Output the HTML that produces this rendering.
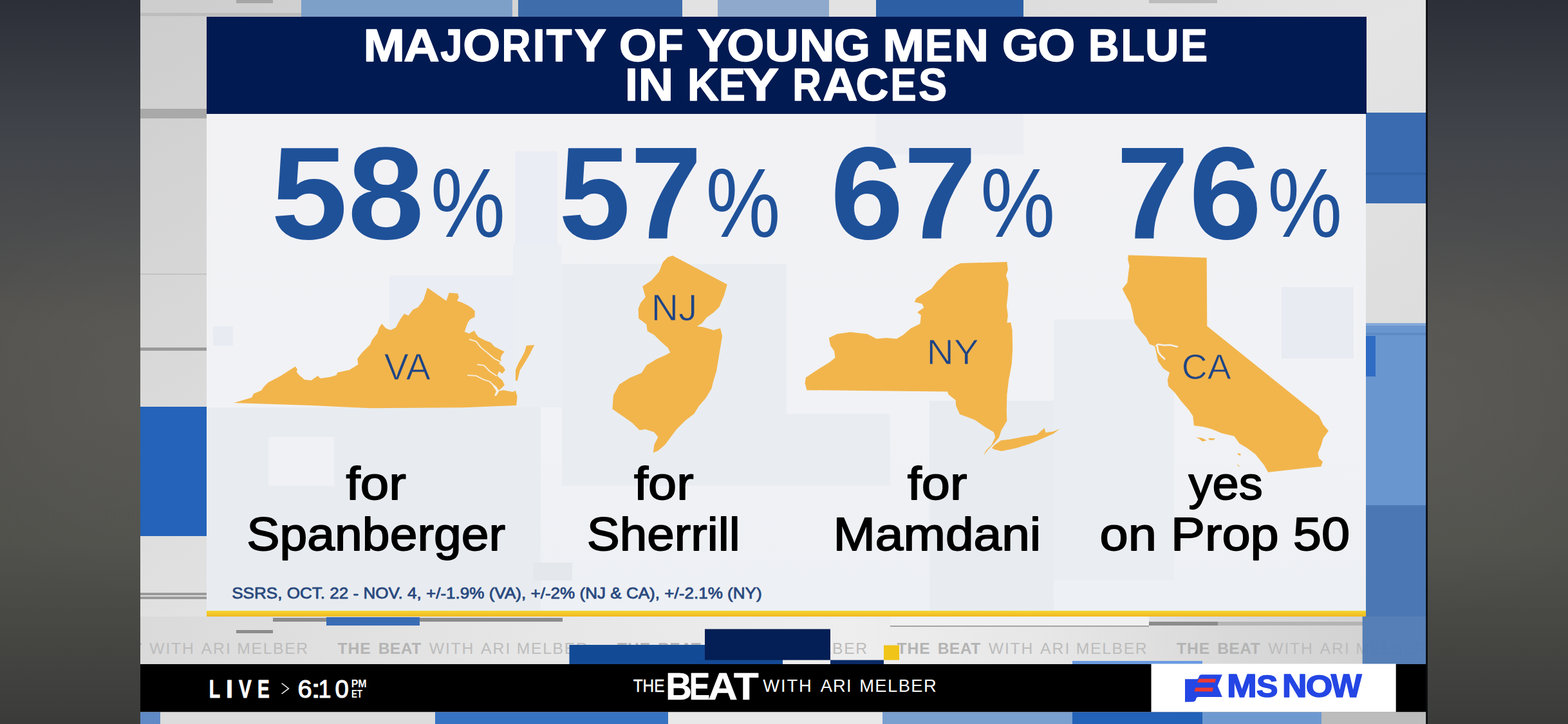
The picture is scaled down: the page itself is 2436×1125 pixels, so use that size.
<!DOCTYPE html>
<html><head><meta charset="utf-8"><title>MS NOW - The Beat</title>
<style>
html,body{margin:0;padding:0;background:#4a4a48;overflow:hidden}
body{width:2436px;height:1125px}
svg{display:block;font-family:"Liberation Sans",sans-serif}
</style></head><body>
<svg width="2436" height="1125" viewBox="0 0 2436 1125">
<desc>MAJORITY OF YOUNG MEN GO BLUE IN KEY RACES. 58% for Spanberger (VA), 57% for Sherrill (NJ), 67% for Mamdani (NY), 76% yes on Prop 50 (CA). SSRS, OCT. 22 - NOV. 4. LIVE 6:10 PM ET. THE BEAT WITH ARI MELBER. MS NOW</desc>
<defs>
<linearGradient id="side" x1="0" y1="0" x2="0" y2="1">
<stop offset="0" stop-color="#2c2f38"/><stop offset="0.2" stop-color="#42454a"/><stop offset="0.45" stop-color="#54534f"/><stop offset="0.75" stop-color="#51514c"/><stop offset="1" stop-color="#3b3b3a"/>
</linearGradient>
<linearGradient id="vbg" x1="0" y1="0" x2="1" y2="1">
<stop offset="0" stop-color="#cdcdcd"/><stop offset="0.5" stop-color="#e4e4e4"/><stop offset="1" stop-color="#d4d4d4"/>
</linearGradient>
<linearGradient id="pbg" x1="0" y1="0" x2="0" y2="1">
<stop offset="0" stop-color="#f2f2f5"/><stop offset="0.6" stop-color="#f1f2f5"/><stop offset="1" stop-color="#edf0f4"/>
</linearGradient>
<linearGradient id="yel" x1="0" y1="0" x2="0" y2="1">
<stop offset="0" stop-color="#f6d534"/><stop offset="1" stop-color="#efb91f"/>
</linearGradient>
<linearGradient id="trow" x1="218" y1="0" x2="2216" y2="0" gradientUnits="userSpaceOnUse">
<stop offset="0" stop-color="#dadada"/><stop offset="0.3" stop-color="#e6e6e6"/><stop offset="0.55" stop-color="#eeeeee"/><stop offset="0.7" stop-color="#e7e7e7"/><stop offset="0.85" stop-color="#d9d9d9"/><stop offset="1" stop-color="#d0d0d0"/>
</linearGradient>
<radialGradient id="hl" cx="218" cy="610" r="330" gradientUnits="userSpaceOnUse"><stop offset="0" stop-color="#fff" stop-opacity="0.045"/><stop offset="1" stop-color="#fff" stop-opacity="0"/></radialGradient>
<radialGradient id="hr" cx="2216" cy="640" r="330" gradientUnits="userSpaceOnUse"><stop offset="0" stop-color="#fff" stop-opacity="0.045"/><stop offset="1" stop-color="#fff" stop-opacity="0"/></radialGradient>
</defs>
<rect x="218" y="0" width="1998" height="1125" fill="url(#vbg)" />
<rect x="367" y="0" width="57" height="5" fill="#a6a6a6" />
<rect x="218" y="20" width="250" height="5" fill="#bdbdbd" />
<rect x="468" y="0" width="328" height="26" fill="#7da0c9" />
<rect x="805" y="0" width="255" height="26" fill="#3f6dab" />
<rect x="1060" y="0" width="55" height="26" fill="#e2e2e2" />
<rect x="1115" y="0" width="173" height="26" fill="#8fa9cc" />
<rect x="1288" y="0" width="73" height="26" fill="#e2e2e2" />
<rect x="1361" y="0" width="229" height="26" fill="#2d5fa5" />
<rect x="1785" y="0" width="106" height="5" fill="#bcbcbc" />
<rect x="218" y="169" width="103" height="15" fill="#a9a9a9" />
<rect x="218" y="425" width="103" height="2" fill="#c4c4c4" />
<rect x="218" y="540" width="103" height="5" fill="#9a9a9a" />
<rect x="218" y="632" width="103" height="201" fill="#2463b9" />
<rect x="218" y="921" width="103" height="4" fill="#9a9a9a" />
<rect x="218" y="927" width="103" height="4" fill="#9a9a9a" />
<rect x="2122" y="175" width="94" height="141" fill="#3a6bb0" />
<rect x="2122" y="268" width="94" height="4" fill="#3463a6" />
<rect x="2122" y="502" width="94" height="283" fill="#6a96cf" />
<rect x="2122" y="502" width="94" height="4" fill="#86abd9" />
<rect x="2122" y="517" width="94" height="4" fill="#5f8ac4" />
<rect x="2122" y="522" width="15" height="63" fill="#2f6cc4" />
<rect x="2122" y="785" width="94" height="175" fill="#4b78b4" />
<rect x="218" y="958" width="1998" height="74" fill="url(#trow)" />
<rect x="424" y="960" width="450" height="6" fill="#8c8c8c" />
<rect x="507" y="959" width="145" height="13" fill="#3a6cb5" />
<rect x="367" y="979" width="57" height="5" fill="#8c8c8c" />
<rect x="1785" y="966" width="107" height="6" fill="#8c8c8c" />
<rect x="1892" y="966" width="226" height="6" fill="#b4b4b4" />
<rect x="1383" y="958" width="402" height="14" fill="#f0f0f0" />
<rect x="1383" y="972" width="402" height="2" fill="#a4a4a4" />
<text x="89.92" y="1015.6" font-size="24.7" fill="#b4b4b4" font-weight="bold" letter-spacing="0.934" >THE</text>
<text x="153.15" y="1015.6" font-size="24.7" fill="#b4b4b4" font-weight="bold" letter-spacing="0.402" >BEAT</text>
<text x="232.27" y="1015.6" font-size="24.7" fill="#bcbcbc" font-weight="normal" letter-spacing="1.815" >WITH</text>
<text x="312.51" y="1015.6" font-size="24.7" fill="#bcbcbc" font-weight="normal" letter-spacing="2.155" >ARI</text>
<text x="368.27" y="1015.6" font-size="24.7" fill="#bcbcbc" font-weight="normal" letter-spacing="1.677" >MELBER</text>
<text x="524.42" y="1015.6" font-size="24.7" fill="#b4b4b4" font-weight="bold" letter-spacing="0.934" >THE</text>
<text x="587.65" y="1015.6" font-size="24.7" fill="#b4b4b4" font-weight="bold" letter-spacing="0.402" >BEAT</text>
<text x="666.77" y="1015.6" font-size="24.7" fill="#bcbcbc" font-weight="normal" letter-spacing="1.815" >WITH</text>
<text x="747.01" y="1015.6" font-size="24.7" fill="#bcbcbc" font-weight="normal" letter-spacing="2.155" >ARI</text>
<text x="802.77" y="1015.6" font-size="24.7" fill="#bcbcbc" font-weight="normal" letter-spacing="1.677" >MELBER</text>
<text x="958.92" y="1015.6" font-size="24.7" fill="#b4b4b4" font-weight="bold" letter-spacing="0.934" >THE</text>
<text x="1022.15" y="1015.6" font-size="24.7" fill="#b4b4b4" font-weight="bold" letter-spacing="0.402" >BEAT</text>
<text x="1101.27" y="1015.6" font-size="24.7" fill="#bcbcbc" font-weight="normal" letter-spacing="1.815" >WITH</text>
<text x="1181.51" y="1015.6" font-size="24.7" fill="#bcbcbc" font-weight="normal" letter-spacing="2.155" >ARI</text>
<text x="1237.27" y="1015.6" font-size="24.7" fill="#bcbcbc" font-weight="normal" letter-spacing="1.677" >MELBER</text>
<text x="1393.42" y="1015.6" font-size="24.7" fill="#b4b4b4" font-weight="bold" letter-spacing="0.934" >THE</text>
<text x="1456.65" y="1015.6" font-size="24.7" fill="#b4b4b4" font-weight="bold" letter-spacing="0.402" >BEAT</text>
<text x="1535.77" y="1015.6" font-size="24.7" fill="#bcbcbc" font-weight="normal" letter-spacing="1.815" >WITH</text>
<text x="1616.01" y="1015.6" font-size="24.7" fill="#bcbcbc" font-weight="normal" letter-spacing="2.155" >ARI</text>
<text x="1671.77" y="1015.6" font-size="24.7" fill="#bcbcbc" font-weight="normal" letter-spacing="1.677" >MELBER</text>
<text x="1827.92" y="1015.6" font-size="24.7" fill="#b4b4b4" font-weight="bold" letter-spacing="0.934" >THE</text>
<text x="1891.15" y="1015.6" font-size="24.7" fill="#b4b4b4" font-weight="bold" letter-spacing="0.402" >BEAT</text>
<text x="1970.27" y="1015.6" font-size="24.7" fill="#bcbcbc" font-weight="normal" letter-spacing="1.815" >WITH</text>
<text x="2050.51" y="1015.6" font-size="24.7" fill="#bcbcbc" font-weight="normal" letter-spacing="2.155" >ARI</text>
<text x="2106.27" y="1015.6" font-size="24.7" fill="#bcbcbc" font-weight="normal" letter-spacing="1.677" >MELBER</text>
<rect x="884.5" y="1002" width="331.5" height="30.5" fill="#134a96" />
<rect x="1095" y="977.5" width="195" height="48.1" fill="#041f55" />
<rect x="1290" y="1025.6" width="83" height="6.4" fill="#0a2a66" />
<rect x="1373" y="1002.6" width="24" height="23.0" fill="#f0c419" />
<rect x="1666" y="1027" width="202" height="5" fill="#6a9be0" />
<rect x="2116.7" y="958" width="99.3" height="74" fill="#4b78b4" opacity="0.93"/>
<rect x="0" y="0" width="218" height="1125" fill="url(#side)"/>
<rect x="2216" y="0" width="220" height="1125" fill="url(#side)"/>
<rect x="0" y="0" width="218" height="1125" fill="url(#hl)"/>
<rect x="2216" y="0" width="220" height="1125" fill="url(#hr)"/>
<rect x="321" y="26" width="1802" height="151" fill="#021a52" />
<rect x="321" y="177" width="1801" height="773" fill="url(#pbg)" />
<rect x="800" y="235" width="66" height="205" fill="#eaedf3" />
<rect x="605" y="428" width="192" height="205" fill="#eaedf3" />
<rect x="797" y="380" width="76" height="253" fill="#ebeef3" />
<rect x="873" y="410" width="349" height="345" fill="#e9edf2" />
<rect x="331" y="507" width="31" height="30" fill="#e8ebf2" />
<rect x="321" y="633" width="519" height="316" fill="#e8ecf0" />
<rect x="417" y="679" width="102" height="76" fill="#eff1f4" />
<rect x="1361" y="177" width="229" height="63" fill="#ecedf2" />
<rect x="1221" y="643" width="162" height="112" fill="#e9edf1" />
<rect x="1444" y="623" width="193" height="326" fill="#e8ecf1" />
<rect x="1637" y="496" width="187" height="406" fill="#eaedf2" />
<rect x="1991" y="446" width="112" height="111" fill="#e9ebf2" />
<rect x="828" y="874" width="61" height="28" fill="#e4e8ed" />
<rect x="321" y="949" width="1801" height="9" fill="url(#yel)" />
<path d="M363.3 626.0 L391.1 617.8 L394.1 611.7 L406.4 606.5 L409.5 601.4 L416.7 594.2 L436.2 583.9 L458.8 569.6 L461.9 573.7 L460.8 577.8 L464.9 582.9 L473.2 590.1 L483.4 591.1 L493.7 583.9 L497.8 588.0 L512.2 586.0 L522.4 582.9 L524.5 578.8 L542.9 574.7 L556.3 566.5 L555.3 557.3 L562.4 548.0 L574.8 535.7 L577.8 528.5 L586.0 518.3 L589.1 509.0 L593.2 502.9 L599.4 510.0 L606.6 513.1 L614.8 509.0 L622.0 495.7 L628.1 487.5 L634.3 490.6 L641.5 481.3 L649.7 477.2 L657.9 465.9 L664.0 447.0 L693.4 467.6 L697.7 455.0 L711.0 456.1 L712.9 461.4 L710.2 467.6 L718.2 470.2 L727.1 474.7 L732.4 478.2 L737.7 483.6 L737.5 492.4 L730.7 496.1 L727.1 500.4 L724.4 507.6 L721.7 515.6 L728.9 518.3 L736.9 513.7 L739.6 519.1 L743.1 523.6 L753.7 528.9 L762.8 532.4 L767.9 538.6 L776.9 543.1 L783.9 546.6 L780.4 550.3 L777.8 555.6 L778.6 561.8 L775.1 564.4 L782.3 570.6 L784.9 575.1 L780.4 580.5 L775.1 577.0 L772.4 583.9 L780.4 591.1 L783.9 598.3 L778.6 603.6 L773.2 608.0 L782.3 606.3 L796.4 609.0 L800.9 607.1 L803.6 616.0 L802.2 630.1 L719.5 633.2 L575.8 634.2 L483.4 630.1 Z" fill="#f2b54c"/>
<path d="M830.3 535.9 L817.8 536.9 L815.1 546.6 L810.6 555.6 L805.3 564.4 L800.9 575.1 L800.9 591.1 L803.6 591.9 L807.9 575.1 L815.9 562.6 L823.1 550.3 L828.4 539.6 Z" fill="#f2b54c"/>
<path d="M1045.1 397.2 L1129.7 442.0 L1125.1 458.6 L1117.6 476.7 L1108.5 485.8 L1097.9 493.3 L1090.4 502.4 L1082.8 506.9 L1093.4 508.4 L1108.5 513.0 L1119.1 509.9 L1122.1 522.0 L1119.1 540.2 L1116.1 558.3 L1113.1 576.4 L1108.5 591.5 L1105.5 603.6 L1096.4 618.7 L1085.9 630.8 L1078.3 642.9 L1064.7 653.5 L1051.1 667.1 L1042.0 679.2 L1033.0 691.3 L1022.4 700.3 L1014.8 703.4 L1016.3 691.3 L1022.4 679.2 L1016.3 671.6 L1002.8 667.1 L993.7 668.6 L981.6 656.5 L966.5 645.9 L951.4 635.4 L952.9 614.2 L962.0 597.6 L978.6 587.0 L996.7 579.5 L1004.3 567.4 L1019.4 558.3 L1033.0 552.3 L1041.4 547.7 L1037.5 540.2 L1026.9 531.1 L1016.3 520.5 L1005.8 514.5 L1004.3 503.9 L992.2 494.8 L991.6 479.7 L995.2 470.7 L1002.8 461.6 L998.2 445.0 L1011.8 435.9 L1023.9 422.3 L1029.9 407.2 L1037.5 399.6 Z" fill="#f2b54c"/>
<path d="M1492.5 409.1 L1564.4 407.0 L1565.9 419.3 L1562.9 428.1 L1566.8 439.9 L1565.9 457.5 L1563.8 475.1 L1565.9 489.7 L1564.4 501.5 L1570.3 500.9 L1572.6 513.2 L1573.2 542.5 L1571.7 566.0 L1567.3 589.5 L1564.4 612.9 L1563.8 639.3 L1564.4 654.0 L1555.6 668.7 L1552.1 679.8 L1546.2 686.9 L1541.5 692.1 L1535.1 698.6 L1527.7 708.3 L1532.1 699.5 L1540.4 691.6 L1546.2 678.9 L1543.9 671.6 L1529.2 662.8 L1514.5 652.5 L1502.8 648.1 L1491.1 643.7 L1485.2 630.5 L1484.6 621.7 L1473.5 612.9 L1472.0 608.5 L1253.5 606.2 L1250.5 595.3 L1252.0 586.5 L1274.0 571.9 L1288.7 563.1 L1297.5 555.7 L1296.0 545.5 L1290.1 536.7 L1287.8 524.9 L1300.4 519.1 L1320.9 516.1 L1347.3 519.1 L1362.0 526.4 L1376.7 524.9 L1392.8 526.4 L1403.1 520.5 L1414.8 510.3 L1429.5 502.9 L1430.9 489.7 L1425.1 485.3 L1435.3 478.0 L1432.4 472.1 L1420.7 469.2 L1423.6 463.3 L1435.3 456.0 L1447.1 448.7 L1455.9 436.9 L1473.5 419.3 L1485.2 412.0 Z" fill="#f2b54c"/>
<path d="M1544.5 692.1 L1555.0 684.2 L1568.8 682.8 L1590.8 678.4 L1610.8 675.4 L1622.5 664.9 L1624.5 672.2 L1636.3 670.4 L1646.5 666.6 L1636.3 674.0 L1621.6 680.4 L1601.1 689.2 L1579.1 696.2 L1556.2 700.9 L1545.3 698.6 L1540.9 696.2 Z" fill="#f2b54c"/>
<path d="M1752.9 396.5 L1874.7 400.4 L1875.3 506.7 L2049.1 646.5 L2055.6 659.7 L2063.9 669.6 L2055.6 681.1 L2052.3 692.6 L2047.4 704.1 L2049.1 712.3 L2055.0 717.3 L2052.3 724.9 L1970.1 733.7 L1963.5 722.2 L1950.3 705.8 L1937.2 695.9 L1925.7 689.3 L1917.4 677.8 L1897.7 672.9 L1881.2 666.3 L1868.1 663.0 L1854.9 661.3 L1853.3 646.5 L1846.7 636.7 L1835.2 623.5 L1825.3 610.3 L1815.4 600.5 L1813.8 590.6 L1817.1 579.1 L1807.2 572.5 L1799.0 561.0 L1796.3 547.8 L1794.0 537.9 L1785.8 534.7 L1780.9 524.8 L1772.6 514.9 L1762.8 501.8 L1759.5 485.3 L1756.2 472.1 L1749.6 460.6 L1743.7 449.1 L1751.3 439.2 L1752.9 426.1 L1754.6 412.9 L1752.2 403.0 Z" fill="#f2b54c"/>
<path d="M1795.5 537.5 L1799 535 L1808 536.5 L1818 536 L1830 539" fill="none" stroke="#f3f0ea" stroke-width="2.6" stroke-linejoin="round"/>
<path d="M1797.5 537 L1799.5 547 L1804 553 L1810 558.5" fill="none" stroke="#f3f0ea" stroke-width="2.8" stroke-linejoin="round"/>
<path d="M1858.2 679.4 L1868.1 680.8 L1874.7 684.4 L1868.1 686.0 L1863.1 682.1 Z" fill="#f2b54c"/>
<path d="M1877.3 680.8 L1888.5 681.4 L1884.5 684.0 L1878.6 683.4 Z" fill="#f2b54c"/>
<path d="M1923.0 703.8 L1928.0 705.8 L1926.6 708.1 L1923.4 706.4 Z" fill="#f2b54c"/>
<path d="M1921.4 720.9 L1926.0 724.2 L1924.0 724.9 Z" fill="#f2b54c"/>
<path d="M728.9 527.1 L739.6 530.6 L746.8 539.6 L757.4 548.4 L767.9 557.3 L778.6 562.6" fill="none" stroke="#f6efe0" stroke-width="1.8" stroke-linejoin="round"/>
<path d="M741.4 566.3 L752.1 567.9 L760.9 577.0 L771.6 583.9" fill="none" stroke="#f6efe0" stroke-width="1.8" stroke-linejoin="round"/>
<path d="M726.2 583.1 L739.6 583.9 L750.2 589.3 L760.9 593.0 L767.9 600.0 L772.4 607.1 L768.9 615.1" fill="none" stroke="#f6efe0" stroke-width="1.8" stroke-linejoin="round"/>
<path d="M763.6 596.5 L770.6 600.0 L775.5 607.5 L771.2 615.1 L768.3 613.9 L771.2 608.0 L767.1 601.8 Z" fill="#f3efe6"/>
<text x="421" y="371" font-size="204" font-weight="bold" fill="#1f5199" textLength="238" lengthAdjust="spacingAndGlyphs">58</text>
<text x="669" y="368" font-size="153" font-weight="normal" fill="#1f5199" textLength="116" lengthAdjust="spacingAndGlyphs">%</text>
<text x="868" y="371" font-size="204" font-weight="bold" fill="#1f5199" textLength="222.7" lengthAdjust="spacingAndGlyphs">57</text>
<text x="1096.6" y="368" font-size="153" font-weight="normal" fill="#1f5199" textLength="116" lengthAdjust="spacingAndGlyphs">%</text>
<text x="1290" y="371" font-size="204" font-weight="bold" fill="#1f5199" textLength="227.4" lengthAdjust="spacingAndGlyphs">67</text>
<text x="1523.3" y="368" font-size="153" font-weight="normal" fill="#1f5199" textLength="116" lengthAdjust="spacingAndGlyphs">%</text>
<text x="1734.2" y="371" font-size="204" font-weight="bold" fill="#1f5199" textLength="226" lengthAdjust="spacingAndGlyphs">76</text>
<text x="1969.3" y="368" font-size="153" font-weight="normal" fill="#1f5199" textLength="116" lengthAdjust="spacingAndGlyphs">%</text>
<text x="596.73" y="590.21" font-size="56.75" fill="#1e4485" textLength="72.13" lengthAdjust="spacingAndGlyphs" stroke="#f2b54c" stroke-width="0.9">VA</text>
<text x="1011.84" y="497.88" font-size="58.02" fill="#1e4485" textLength="71.54" lengthAdjust="spacingAndGlyphs" stroke="#f2b54c" stroke-width="0.9">NJ</text>
<rect x="1063.5" y="457.0" width="10.4" height="6.4" fill="#f2b54c" />
<text x="1439.44" y="566.45" font-size="54.93" fill="#1e4485" textLength="81.37" lengthAdjust="spacingAndGlyphs" stroke="#f2b54c" stroke-width="0.9">NY</text>
<text x="1835.73" y="589.49" font-size="55.63" fill="#1e4485" textLength="76.9" lengthAdjust="spacingAndGlyphs" stroke="#f2b54c" stroke-width="0.9">CA</text>
<text x="537.47" y="775.7" font-size="72.6" fill="#000" font-weight="normal" textLength="93.39" lengthAdjust="spacingAndGlyphs" stroke="#000" stroke-width="1.8" stroke-linejoin="round" >for</text>
<text x="383.24" y="855.1" font-size="72.6" fill="#000" font-weight="normal" textLength="401.99" lengthAdjust="spacingAndGlyphs" stroke="#000" stroke-width="1.8" stroke-linejoin="round" >Spanberger</text>
<text x="985.08" y="775.7" font-size="72.6" fill="#000" font-weight="normal" textLength="92.57" lengthAdjust="spacingAndGlyphs" stroke="#000" stroke-width="1.8" stroke-linejoin="round" >for</text>
<text x="911.86" y="855.1" font-size="72.6" fill="#000" font-weight="normal" textLength="237.85" lengthAdjust="spacingAndGlyphs" stroke="#000" stroke-width="1.8" stroke-linejoin="round" >Sherrill</text>
<text x="1409.78" y="775.7" font-size="72.6" fill="#000" font-weight="normal" textLength="92.68" lengthAdjust="spacingAndGlyphs" stroke="#000" stroke-width="1.8" stroke-linejoin="round" >for</text>
<text x="1294.45" y="855.1" font-size="72.6" fill="#000" font-weight="normal" textLength="322.89" lengthAdjust="spacingAndGlyphs" stroke="#000" stroke-width="1.8" stroke-linejoin="round" >Mamdani</text>
<text x="1846.61" y="775.7" font-size="72.6" fill="#000" font-weight="normal" textLength="115.17" lengthAdjust="spacingAndGlyphs" stroke="#000" stroke-width="1.8" stroke-linejoin="round" >yes</text>
<text x="1708.55" y="855.1" font-size="72.6" fill="#000" font-weight="normal" textLength="388.68" lengthAdjust="spacingAndGlyphs" stroke="#000" stroke-width="1.8" stroke-linejoin="round" >on Prop 50</text>
<text x="360.19" y="930.2" font-size="23.6" fill="#29497f" font-weight="normal" textLength="823.44" lengthAdjust="spacingAndGlyphs" stroke="#29497f" stroke-width="0.8" stroke-linejoin="round" >SSRS, OCT. 22 - NOV. 4, +/-1.9% (VA), +/-2% (NJ &amp; CA), +/-2.1% (NY)</text>
<text x="564.56" y="94.5" font-size="70.3" fill="#fff" font-weight="bold" textLength="64.58" lengthAdjust="spacingAndGlyphs" stroke="#fff" stroke-width="1.5" stroke-linejoin="round" >M</text>
<text x="626.98" y="94.5" font-size="70.3" fill="#fff" font-weight="bold" textLength="55.87" lengthAdjust="spacingAndGlyphs" stroke="#fff" stroke-width="1.5" stroke-linejoin="round" >A</text>
<text x="684.36" y="94.5" font-size="70.3" fill="#fff" font-weight="bold" textLength="34.08" lengthAdjust="spacingAndGlyphs" stroke="#fff" stroke-width="1.5" stroke-linejoin="round" >J</text>
<text x="719.38" y="94.5" font-size="70.3" fill="#fff" font-weight="bold" textLength="58.07" lengthAdjust="spacingAndGlyphs" stroke="#fff" stroke-width="1.5" stroke-linejoin="round" >O</text>
<text x="779.47" y="94.5" font-size="70.3" fill="#fff" font-weight="bold" textLength="45.06" lengthAdjust="spacingAndGlyphs" stroke="#fff" stroke-width="1.5" stroke-linejoin="round" >R</text>
<text x="827.79" y="94.5" font-size="70.3" fill="#fff" font-weight="bold" textLength="18.91" lengthAdjust="spacingAndGlyphs" stroke="#fff" stroke-width="1.5" stroke-linejoin="round" >I</text>
<text x="848.81" y="94.5" font-size="70.3" fill="#fff" font-weight="bold" textLength="39.74" lengthAdjust="spacingAndGlyphs" stroke="#fff" stroke-width="1.5" stroke-linejoin="round" >T</text>
<text x="892.56" y="94.5" font-size="70.3" fill="#fff" font-weight="bold" textLength="49.62" lengthAdjust="spacingAndGlyphs" stroke="#fff" stroke-width="1.5" stroke-linejoin="round" >Y</text>
<text x="961.76" y="94.5" font-size="70.3" fill="#fff" font-weight="bold" textLength="58.41" lengthAdjust="spacingAndGlyphs" stroke="#fff" stroke-width="1.5" stroke-linejoin="round" >O</text>
<text x="1021.3" y="94.5" font-size="70.3" fill="#fff" font-weight="bold" textLength="40.59" lengthAdjust="spacingAndGlyphs" stroke="#fff" stroke-width="1.5" stroke-linejoin="round" >F</text>
<text x="1083.02" y="94.5" font-size="70.3" fill="#fff" font-weight="bold" textLength="50.89" lengthAdjust="spacingAndGlyphs" stroke="#fff" stroke-width="1.5" stroke-linejoin="round" >Y</text>
<text x="1129.18" y="94.5" font-size="70.3" fill="#fff" font-weight="bold" textLength="58.07" lengthAdjust="spacingAndGlyphs" stroke="#fff" stroke-width="1.5" stroke-linejoin="round" >O</text>
<text x="1188.39" y="94.5" font-size="70.3" fill="#fff" font-weight="bold" textLength="52.5" lengthAdjust="spacingAndGlyphs" stroke="#fff" stroke-width="1.5" stroke-linejoin="round" >U</text>
<text x="1241.87" y="94.5" font-size="70.3" fill="#fff" font-weight="bold" textLength="54.8" lengthAdjust="spacingAndGlyphs" stroke="#fff" stroke-width="1.5" stroke-linejoin="round" >N</text>
<text x="1295.45" y="94.5" font-size="70.3" fill="#fff" font-weight="bold" textLength="56.61" lengthAdjust="spacingAndGlyphs" stroke="#fff" stroke-width="1.5" stroke-linejoin="round" >G</text>
<text x="1371.22" y="94.5" font-size="70.3" fill="#fff" font-weight="bold" textLength="65.06" lengthAdjust="spacingAndGlyphs" stroke="#fff" stroke-width="1.5" stroke-linejoin="round" >M</text>
<text x="1436.95" y="94.5" font-size="70.3" fill="#fff" font-weight="bold" textLength="42.81" lengthAdjust="spacingAndGlyphs" stroke="#fff" stroke-width="1.5" stroke-linejoin="round" >E</text>
<text x="1482.26" y="94.5" font-size="70.3" fill="#fff" font-weight="bold" textLength="53.82" lengthAdjust="spacingAndGlyphs" stroke="#fff" stroke-width="1.5" stroke-linejoin="round" >N</text>
<text x="1556.82" y="94.5" font-size="70.3" fill="#fff" font-weight="bold" textLength="57.19" lengthAdjust="spacingAndGlyphs" stroke="#fff" stroke-width="1.5" stroke-linejoin="round" >G</text>
<text x="1612.28" y="94.5" font-size="70.3" fill="#fff" font-weight="bold" textLength="58.07" lengthAdjust="spacingAndGlyphs" stroke="#fff" stroke-width="1.5" stroke-linejoin="round" >O</text>
<text x="1690.8" y="94.5" font-size="70.3" fill="#fff" font-weight="bold" textLength="47.97" lengthAdjust="spacingAndGlyphs" stroke="#fff" stroke-width="1.5" stroke-linejoin="round" >B</text>
<text x="1741.76" y="94.5" font-size="70.3" fill="#fff" font-weight="bold" textLength="36.43" lengthAdjust="spacingAndGlyphs" stroke="#fff" stroke-width="1.5" stroke-linejoin="round" >L</text>
<text x="1778.85" y="94.5" font-size="70.3" fill="#fff" font-weight="bold" textLength="52.98" lengthAdjust="spacingAndGlyphs" stroke="#fff" stroke-width="1.5" stroke-linejoin="round" >U</text>
<text x="1834.16" y="94.5" font-size="70.3" fill="#fff" font-weight="bold" textLength="41.74" lengthAdjust="spacingAndGlyphs" stroke="#fff" stroke-width="1.5" stroke-linejoin="round" >E</text>
<text x="971.06" y="156.2" font-size="70.3" fill="#fff" font-weight="bold" textLength="19.88" lengthAdjust="spacingAndGlyphs" stroke="#fff" stroke-width="1.5" stroke-linejoin="round" >I</text>
<text x="991.7" y="156.2" font-size="70.3" fill="#fff" font-weight="bold" textLength="54.43" lengthAdjust="spacingAndGlyphs" stroke="#fff" stroke-width="1.5" stroke-linejoin="round" >N</text>
<text x="1067.94" y="156.2" font-size="70.3" fill="#fff" font-weight="bold" textLength="48.67" lengthAdjust="spacingAndGlyphs" stroke="#fff" stroke-width="1.5" stroke-linejoin="round" >K</text>
<text x="1116.96" y="156.2" font-size="70.3" fill="#fff" font-weight="bold" textLength="40.79" lengthAdjust="spacingAndGlyphs" stroke="#fff" stroke-width="1.5" stroke-linejoin="round" >E</text>
<text x="1154.18" y="156.2" font-size="70.3" fill="#fff" font-weight="bold" textLength="55.96" lengthAdjust="spacingAndGlyphs" stroke="#fff" stroke-width="1.5" stroke-linejoin="round" >Y</text>
<text x="1231.21" y="156.2" font-size="70.3" fill="#fff" font-weight="bold" textLength="44.72" lengthAdjust="spacingAndGlyphs" stroke="#fff" stroke-width="1.5" stroke-linejoin="round" >R</text>
<text x="1278.13" y="156.2" font-size="70.3" fill="#fff" font-weight="bold" textLength="54.46" lengthAdjust="spacingAndGlyphs" stroke="#fff" stroke-width="1.5" stroke-linejoin="round" >A</text>
<text x="1329.54" y="156.2" font-size="70.3" fill="#fff" font-weight="bold" textLength="50.97" lengthAdjust="spacingAndGlyphs" stroke="#fff" stroke-width="1.5" stroke-linejoin="round" >C</text>
<text x="1383.43" y="156.2" font-size="70.3" fill="#fff" font-weight="bold" textLength="40.07" lengthAdjust="spacingAndGlyphs" stroke="#fff" stroke-width="1.5" stroke-linejoin="round" >E</text>
<text x="1427.06" y="156.2" font-size="70.3" fill="#fff" font-weight="bold" textLength="44.19" lengthAdjust="spacingAndGlyphs" stroke="#fff" stroke-width="1.5" stroke-linejoin="round" >S</text>
<rect x="218" y="1032" width="1998" height="74.5" fill="#000" />
<rect x="1788.5" y="1031.5" width="380.2" height="75.0" fill="#fff" />
<text x="324.65" y="1083.85" font-size="39.57" fill="#fff" font-weight="bold" textLength="17.38" lengthAdjust="spacingAndGlyphs" stroke="#fff" stroke-width="0.9" stroke-linejoin="round" >L</text>
<text x="350.9" y="1083.85" font-size="39.57" fill="#fff" font-weight="bold" textLength="11.0" lengthAdjust="spacingAndGlyphs" stroke="#fff" stroke-width="0.9" stroke-linejoin="round" >I</text>
<text x="371.12" y="1083.85" font-size="39.57" fill="#fff" font-weight="bold" textLength="19.66" lengthAdjust="spacingAndGlyphs" stroke="#fff" stroke-width="0.9" stroke-linejoin="round" >V</text>
<text x="399.98" y="1083.85" font-size="39.57" fill="#fff" font-weight="bold" textLength="18.67" lengthAdjust="spacingAndGlyphs" stroke="#fff" stroke-width="0.9" stroke-linejoin="round" >E</text>
<path d="M437.6 1061.6 L448.4 1069.9 L437.6 1078.2" fill="none" stroke="#e8e8e8" stroke-width="1.6"/>
<text x="462.57" y="1083.8" font-size="39.58" fill="#fff" font-weight="normal" textLength="22.19" lengthAdjust="spacingAndGlyphs" stroke="#fff" stroke-width="1.2" stroke-linejoin="round" >6</text>
<text x="483.3" y="1083.8" font-size="39.58" fill="#fff" font-weight="normal" textLength="14.9" lengthAdjust="spacingAndGlyphs" stroke="#fff" stroke-width="1.2" stroke-linejoin="round" >:</text>
<text x="494.5" y="1083.8" font-size="39.58" fill="#fff" font-weight="normal" textLength="20" lengthAdjust="spacingAndGlyphs" stroke="#fff" stroke-width="1.2" stroke-linejoin="round" >1</text>
<text x="520.6" y="1083.8" font-size="39.58" fill="#fff" font-weight="normal" textLength="21.3" lengthAdjust="spacingAndGlyphs" stroke="#fff" stroke-width="1.2" stroke-linejoin="round" >0</text>
<text x="545.73" y="1068.2" font-size="15.89" fill="#fff" font-weight="bold" textLength="23.93" lengthAdjust="spacingAndGlyphs" >PM</text>
<text x="545.9" y="1084.3" font-size="15.91" fill="#fff" font-weight="bold" textLength="17.14" lengthAdjust="spacingAndGlyphs" >ET</text>
<text x="983.65" y="1075.2" font-size="26.76" fill="#fff" font-weight="normal" textLength="48.81" lengthAdjust="spacingAndGlyphs" stroke="#fff" stroke-width="0.4" stroke-linejoin="round" >THE</text>
<text x="1034.23" y="1087.4" font-size="58.6" fill="#fff" font-weight="bold" textLength="40.63" lengthAdjust="spacingAndGlyphs" stroke="#fff" stroke-width="0.6" stroke-linejoin="round" >B</text>
<text x="1070.77" y="1087.4" font-size="58.6" fill="#fff" font-weight="bold" textLength="32.22" lengthAdjust="spacingAndGlyphs" stroke="#fff" stroke-width="0.6" stroke-linejoin="round" >E</text>
<text x="1099.99" y="1087.4" font-size="58.6" fill="#fff" font-weight="bold" textLength="46.01" lengthAdjust="spacingAndGlyphs" stroke="#fff" stroke-width="0.6" stroke-linejoin="round" >A</text>
<text x="1139.98" y="1087.4" font-size="58.6" fill="#fff" font-weight="bold" textLength="38.71" lengthAdjust="spacingAndGlyphs" stroke="#fff" stroke-width="0.6" stroke-linejoin="round" >T</text>
<text x="1185.36" y="1075.3" font-size="27.3" fill="#fff" font-weight="normal" letter-spacing="1.843" >WITH</text>
<text x="1274.7" y="1075.3" font-size="27.3" fill="#fff" font-weight="normal" letter-spacing="1.164" >ARI</text>
<text x="1335.16" y="1075.3" font-size="27.3" fill="#fff" font-weight="normal" letter-spacing="1.467" >MELBER</text>
<g transform="translate(1820,1035) scale(0.13136)"><path d="M160,155 L298,155 C314,155 320,142 325,125 Q332,100 356,100 L600,100 L545,235 L600,365 L312,365 Q296,365 291,385 Q284,420 256,422 L160,425 Z" fill="#2446e4"/><path d="M325,150 L525,150 L515,195 L305,195 Z" fill="#ee3a33"/><path d="M285,255 L495,255 L485,300 L270,300 Z" fill="#ee3a33"/></g>
<text x="1906.14" y="1083.0" font-size="49.42" fill="#2446e4" font-weight="bold" textLength="46.83" lengthAdjust="spacingAndGlyphs" stroke="#2446e4" stroke-width="1.6" stroke-linejoin="round" >M</text>
<text x="1952.0" y="1082.52" font-size="48.03" fill="#2446e4" font-weight="bold" textLength="33.37" lengthAdjust="spacingAndGlyphs" stroke="#2446e4" stroke-width="1.6" stroke-linejoin="round" >S</text>
<text x="1991.94" y="1083.0" font-size="49.42" fill="#2446e4" font-weight="bold" textLength="38.46" lengthAdjust="spacingAndGlyphs" stroke="#2446e4" stroke-width="1.6" stroke-linejoin="round" >N</text>
<text x="2028.8" y="1082.52" font-size="48.03" fill="#2446e4" font-weight="bold" textLength="41.59" lengthAdjust="spacingAndGlyphs" stroke="#2446e4" stroke-width="1.6" stroke-linejoin="round" >O</text>
<text x="2067.71" y="1083.0" font-size="49.42" fill="#2446e4" font-weight="bold" textLength="47.77" lengthAdjust="spacingAndGlyphs" stroke="#2446e4" stroke-width="1.6" stroke-linejoin="round" >W</text>
<rect x="218" y="1106.5" width="31" height="18.5" fill="#5f8ac6" />
<rect x="249" y="1106.5" width="427" height="18.5" fill="#dcdcdc" />
<rect x="676" y="1106.5" width="362" height="18.5" fill="#3773c3" />
<rect x="1038" y="1106.5" width="333" height="18.5" fill="#e8e8e8" />
<rect x="1371" y="1106.5" width="295" height="18.5" fill="#7aa0d0" />
<rect x="1666" y="1106.5" width="202" height="18.5" fill="#2262b8" />
<rect x="1868" y="1106.5" width="185" height="18.5" fill="#6e99d0" />
<rect x="2053" y="1106.5" width="163" height="18.5" fill="#bcbcbc" />
<rect x="2215.2" y="0" width="2.8" height="1125" fill="#0b0d11"/>
</svg>
</body></html>
